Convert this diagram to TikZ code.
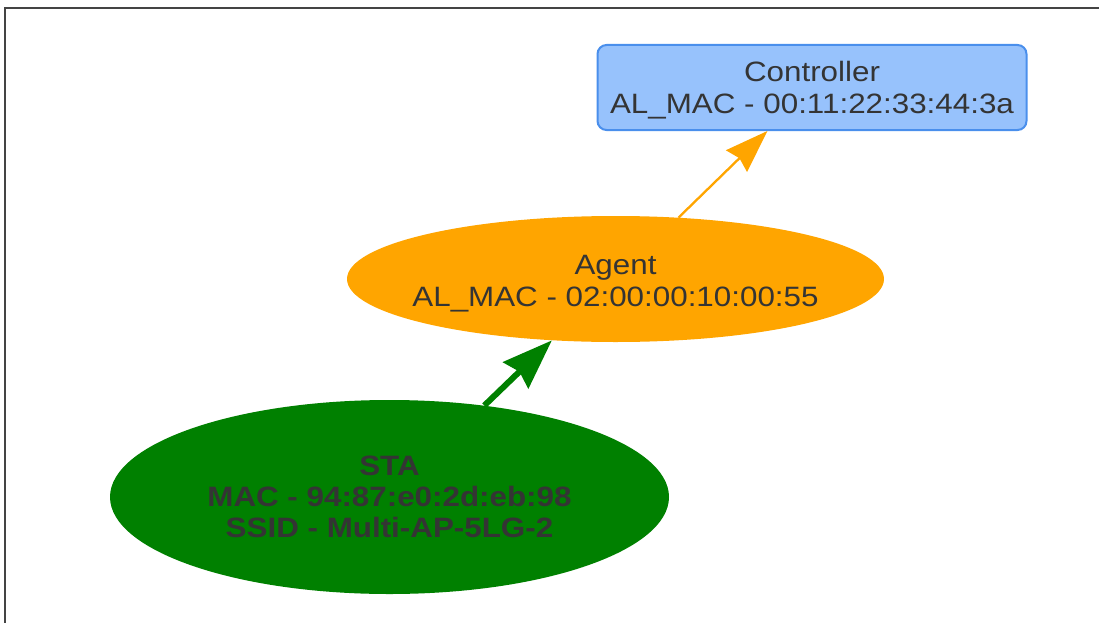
\documentclass[tikz,border=0pt]{standalone}
\usepackage{fontspec}
\setmainfont{Liberation Sans}[FakeStretch=1.12]
\usetikzlibrary{shapes.geometric,arrows.meta}
\definecolor{visblue}{HTML}{97C2FC}
\definecolor{visborder}{HTML}{4A8FEC}
\definecolor{agentorange}{HTML}{FFA500}
\definecolor{stagreen}{HTML}{008000}
\definecolor{labelgray}{HTML}{343434}
\definecolor{framegray}{HTML}{444444}

\begin{document}
\begin{tikzpicture}[
		x=1pt, y=-1pt,
		every node/.style={font=\fontsize{28}{32}\selectfont, text=labelgray},
		controller/.style={
			draw=visborder,
			line width=2pt,
			rounded corners=9pt,
			fill=visblue,
			minimum width=429pt,
			minimum height=85pt,
			inner sep=0pt,
			align=center
		},
		station/.style={ellipse, draw=none, inner sep=0pt},
		caption/.style={align=center},
		stacaption/.style={
			caption,
			font=\fontsize{28}{31}\selectfont\bfseries
		},
		uplink/.style={
			draw=agentorange,
			line width=2.3pt,
			-{Stealth[length=43pt, width=30pt, inset=4pt, fill=agentorange]}
		},
		wifilink/.style={
			draw=stagreen,
			line width=6pt,
			-{Stealth[length=50pt, width=36pt, inset=5pt, fill=stagreen]}
		}
	]
		\useasboundingbox (0,0) rectangle (1099,623);
		% frame of the view
		\draw[framegray, line width=2pt] (5.3,630) -- (5.3,8) -- (1105,8);

		\node[controller] (ctrl) at (812,87.5) {};
		\node[caption] (ctrl-label) at (812,90.5)
			{Controller\\AL\_MAC - 00:11:22:33:44:3a};

		\node[station, fill=agentorange,
			minimum width=537pt, minimum height=126pt] (agent) at (615.5,279) {};
		\node[caption] (agent-label) at (615.5,284)
			{Agent\\AL\_MAC - 02:00:00:10:00:55};

		\node[station, fill=stagreen,
			minimum width=559pt, minimum height=194pt] (sta) at (389.5,497) {};
		\node[stacaption] (sta-label) at (sta)
			{STA\\MAC - 94:87:e0:2d:eb:98\\SSID - Multi-AP-5LG-2};

		\draw[uplink] (agent) -- (ctrl);
		\draw[wifilink] (sta) -- (agent);
	\end{tikzpicture}
\end{document}
